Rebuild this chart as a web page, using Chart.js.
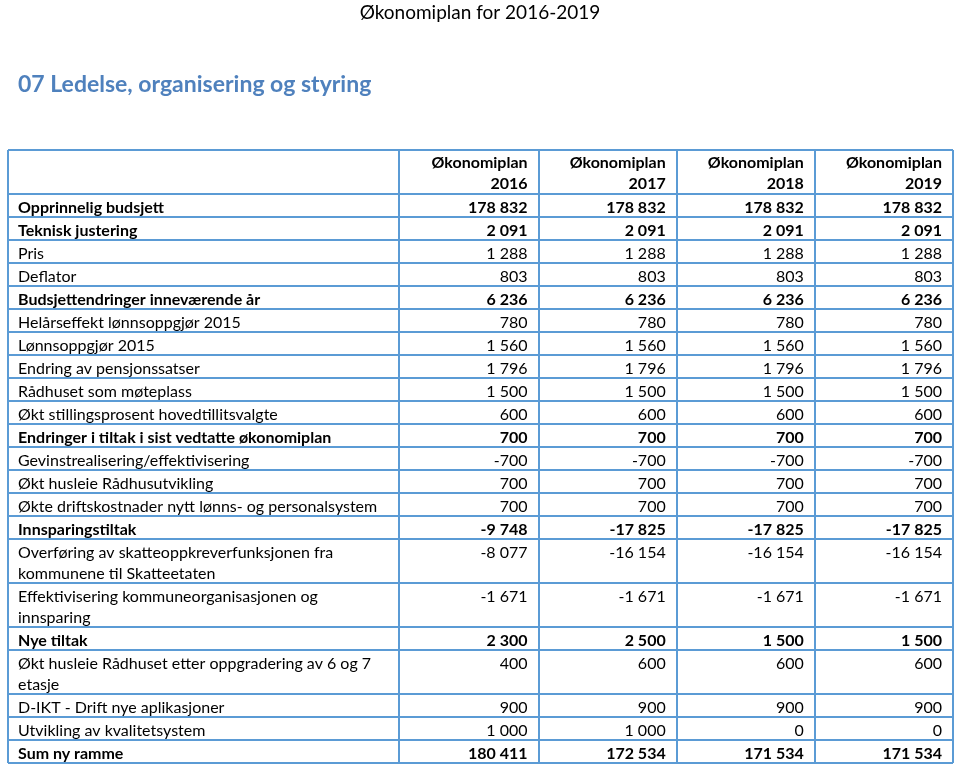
<!DOCTYPE html>
<html>
<head>
<meta charset="utf-8">
<script src="https://cdn.jsdelivr.net/npm/chart.js@4.4.1/dist/chart.umd.min.js"></script>
<style>
  body { margin: 0; background: #fff; }
  #wrap { width: 960px; height: 766px; position: relative; }
</style>
</head>
<body>
<div id="wrap"><canvas id="planChart"></canvas></div>
<script>
const pageTitle = 'Økonomiplan for 2016-2019';
const sectionTitle = '07 Ledelse, organisering og styring';
const columnHeaders = [['Økonomiplan', '2016'], ['Økonomiplan', '2017'], ['Økonomiplan', '2018'], ['Økonomiplan', '2019']];

const categories = [
    'Opprinnelig budsjett',
    'Teknisk justering',
    'Pris',
    'Deflator',
    'Budsjettendringer inneværende år',
    'Helårseffekt lønnsoppgjør 2015',
    'Lønnsoppgjør 2015',
    'Endring av pensjonssatser',
    'Rådhuset som møteplass',
    'Økt stillingsprosent hovedtillitsvalgte',
    'Endringer i tiltak i sist vedtatte økonomiplan',
    'Gevinstrealisering/effektivisering',
    'Økt husleie Rådhusutvikling',
    'Økte driftskostnader nytt lønns- og personalsystem',
    'Innsparingstiltak',
    ['Overføring av skatteoppkreverfunksjonen fra', 'kommunene til Skatteetaten'],
    ['Effektivisering kommuneorganisasjonen og', 'innsparing'],
    'Nye tiltak',
    ['Økt husleie Rådhuset etter oppgradering av 6 og 7', 'etasje'],
    'D-IKT - Drift nye aplikasjoner',
    'Utvikling av kvalitetsystem',
    'Sum ny ramme'
];

const plan2016 = [178832, 2091, 1288, 803, 6236, 780, 1560, 1796, 1500, 600, 700, -700, 700, 700, -9748, -8077, -1671, 2300, 400, 900, 1000, 180411];
const plan2017 = [178832, 2091, 1288, 803, 6236, 780, 1560, 1796, 1500, 600, 700, -700, 700, 700, -17825, -16154, -1671, 2500, 600, 900, 1000, 172534];
const plan2018 = [178832, 2091, 1288, 803, 6236, 780, 1560, 1796, 1500, 600, 700, -700, 700, 700, -17825, -16154, -1671, 1500, 600, 900, 0, 171534];
const plan2019 = [178832, 2091, 1288, 803, 6236, 780, 1560, 1796, 1500, 600, 700, -700, 700, 700, -17825, -16154, -1671, 1500, 600, 900, 0, 171534];

// rows shown in bold (sub totals)
const boldRows = ['Opprinnelig budsjett', 'Teknisk justering', 'Budsjettendringer inneværende år',
    'Endringer i tiltak i sist vedtatte økonomiplan', 'Innsparingstiltak', 'Nye tiltak', 'Sum ny ramme'];

const series = [plan2016, plan2017, plan2018, plan2019];

// layout
const lineH = 21;
const colWidths = [391, 139, 138, 138, 138];
const borderColor = '#5b9bd5';
const fontFamily = 'Lato, "Open Sans", sans-serif';

const rowLines = [2].concat(categories.map(c => Array.isArray(c) ? c.length : 1));
const rowEdges = [0];
rowLines.forEach(n => rowEdges.push(rowEdges[rowEdges.length - 1] + n * lineH + 2));
const colEdges = [0];
colWidths.forEach(w => colEdges.push(colEdges[colEdges.length - 1] + w));

function fmt(v) {
    const s = String(Math.abs(v)).replace(/\B(?=(\d{3})+(?!\d))/g, ' ');
    return (v < 0 ? '-' : '') + s;
}

const tablePlugin = {
    id: 'tableText',
    afterDraw(chart) {
        const { ctx, scales: { x, y } } = chart;
        ctx.save();
        ctx.textBaseline = 'middle';

        // titles
        ctx.fillStyle = '#000';
        ctx.font = '19px ' + fontFamily;
        ctx.textAlign = 'center';
        ctx.fillText(pageTitle, 480, 13);
        ctx.fillStyle = '#4f81bd';
        ctx.font = 'bold 23px ' + fontFamily;
        ctx.textAlign = 'left';
        ctx.fillText(sectionTitle, 18, 85);

        ctx.fillStyle = '#000';
        // header
        ctx.font = 'bold 16px ' + fontFamily;
        ctx.textAlign = 'right';
        columnHeaders.forEach((h, c) => {
            const xr = x.getPixelForValue(colEdges[c + 2]) - 11;
            h.forEach((t, i) => ctx.fillText(t, xr, y.getPixelForValue(rowEdges[0]) + 13 + i * lineH));
        });

        categories.forEach((cat, r) => {
            const top = y.getPixelForValue(rowEdges[r + 1]);
            const bold = boldRows.includes(Array.isArray(cat) ? cat.join(' ') : cat);
            ctx.font = (bold ? 'bold ' : '') + '16px ' + fontFamily;
            ctx.textAlign = 'left';
            const lines = Array.isArray(cat) ? cat : [cat];
            lines.forEach((t, i) => ctx.fillText(t, x.getPixelForValue(0) + 10, top + 13.5 + i * lineH));
            ctx.textAlign = 'right';
            series.forEach((vals, c) => {
                ctx.fillText(fmt(vals[r]), x.getPixelForValue(colEdges[c + 2]) - 11, top + 13.5);
            });
        });
        ctx.restore();
    }
};

const gridOpts = { color: borderColor, lineWidth: 2, drawTicks: false };

new Chart(document.getElementById('planChart'), {
    type: 'scatter',
    data: { datasets: [] },
    options: {
        responsive: true,
        maintainAspectRatio: false,
        animation: false,
        events: [],
        layout: { padding: { top: 150, left: 8, right: 7, bottom: 3 } },
        plugins: { legend: { display: false }, tooltip: { enabled: false } },
        scales: {
            x: {
                type: 'linear', min: 0, max: colEdges[colEdges.length - 1],
                grid: gridOpts, border: { display: false },
                ticks: { display: false },
                afterBuildTicks: axis => { axis.ticks = colEdges.map(v => ({ value: v })); }
            },
            y: {
                type: 'linear', reverse: true, min: 0, max: rowEdges[rowEdges.length - 1],
                grid: gridOpts, border: { display: false },
                ticks: { display: false },
                afterBuildTicks: axis => { axis.ticks = rowEdges.map(v => ({ value: v })); }
            }
        }
    },
    plugins: [tablePlugin]
});
</script>
</body>
</html>
